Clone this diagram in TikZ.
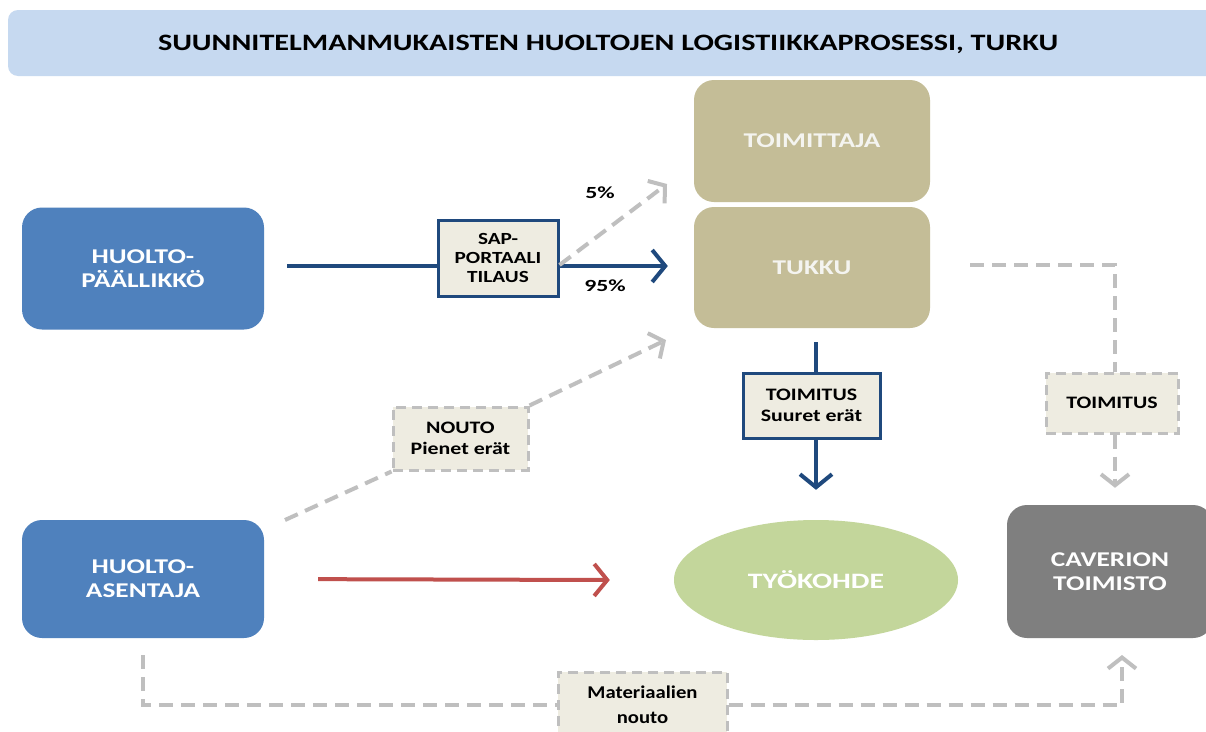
\documentclass[tikz,border=0pt]{standalone}
\usepackage{fontspec}
\usepackage{graphicx}
\setmainfont{Carlito}
\usetikzlibrary{arrows.meta,shapes.geometric}
\definecolor{titlebg}{HTML}{C6D9F0}
\definecolor{bluebox}{HTML}{4F81BD}
\definecolor{tanbox}{HTML}{C4BD97}
\definecolor{greenell}{HTML}{C3D69B}
\definecolor{graybox}{HTML}{7F7F7F}
\definecolor{lblfill}{HTML}{EEECE1}
\definecolor{darkblue}{HTML}{1F497D}
\definecolor{redline}{HTML}{C0504D}
\definecolor{lightgray}{HTML}{BFBFBF}
\definecolor{paletext}{HTML}{F4F4F0}
\newcommand\hs[1]{\scalebox{1.3}[1]{#1}}
\newcommand\hsl[1]{\scalebox{1.25}[1]{#1}}
\begin{document}
\begin{tikzpicture}[x=1pt,y=-1pt,
  mainbox/.style={rounded corners=20pt, minimum width=242pt, minimum height=122pt, inner sep=0pt,
    font=\bfseries\fontsize{21}{24}\selectfont, align=center, text=white},
  lblblue/.style={draw=darkblue, line width=3pt, fill=lblfill, align=center, inner sep=0pt,
    font=\bfseries\fontsize{17.5}{21}\selectfont},
  lblgray/.style={draw=lightgray, line width=3pt, dash pattern=on 10pt off 6pt, fill=lblfill, align=center, inner sep=0pt,
    font=\bfseries\fontsize{17.5}{21}\selectfont},
  blueline/.style={draw=darkblue, line width=4pt},
  bluearrow/.style={blueline, -{Straight Barb[length=13pt,width=32pt,line width=4pt]}},
  redarrow/.style={draw=redline, line width=4pt, -{Straight Barb[length=13pt,width=32pt,line width=4pt]}},
  grayline/.style={draw=lightgray, line width=4pt, dash pattern=on 14pt off 8pt},
  grayarrow/.style={grayline, -{Straight Barb[length=11pt,width=28pt,line width=4pt]}},
  pct/.style={font=\bfseries\fontsize{17}{20}\selectfont}
]
\useasboundingbox (0,0) rectangle (1206,731);
\fill[white] (0,0) rectangle (1206,731);

% title
\node[fill=titlebg, rounded corners=10pt, minimum width=1230pt, minimum height=66pt, inner sep=0pt] (title) at (623,43) {};
\node[font=\bfseries\fontsize{23.5}{28}\selectfont] (titletext) at (608,44)
  {\resizebox{900pt}{\height}{SUUNNITELMANMUKAISTEN HUOLTOJEN LOGISTIIKKAPROSESSI, TURKU}};

% main boxes
\node[mainbox, fill=bluebox] (hp) at (143,268.5) {\hs{HUOLTO-}\\\hs{PÄÄLLIKKÖ}};
\node[mainbox, fill=bluebox, minimum height=118pt] (ha) at (143,579) {\hs{HUOLTO-}\\\hs{ASENTAJA}};
\node[mainbox, fill=tanbox, minimum width=236pt, text=paletext] (toimittaja) at (812,141) {\hs{TOIMITTAJA}};
\node[mainbox, fill=tanbox, minimum width=236pt, minimum height=121pt, text=paletext] (tukku) at (812,267.5) {\hs{TUKKU}};
\node[ellipse, fill=greenell, minimum width=284pt, minimum height=120pt, inner sep=0pt,
  font=\bfseries\fontsize{22}{26}\selectfont, text=white] (tyo) at (816,580) {\scalebox{1.35}[1]{TYÖKOHDE}};
\node[mainbox, fill=graybox, minimum width=206pt, minimum height=133pt] (cav) at (1110,571.5) {\hs{CAVERION}\\\hs{TOIMISTO}};

% label boxes
\node[lblblue, minimum width=120pt, minimum height=76pt, font=\bfseries\fontsize{17}{19}\selectfont] (sap) at (498,258) {\hsl{SAP-}\\\hsl{PORTAALI}\\\hsl{TILAUS}};
\node[lblgray, minimum width=135pt, minimum height=63pt] (nouto) at (460.5,438.5) {\hsl{NOUTO}\\\hsl{Pienet erät}};
\node[lblblue, minimum width=137pt, minimum height=65pt] (toim1) at (811.5,405.5) {\hsl{TOIMITUS}\\\hsl{Suuret erät}};
\node[lblgray, minimum width=132pt, minimum height=60pt] (toim2) at (1112,403) {\hsl{TOIMITUS}};
\node[lblgray, minimum width=169pt, minimum height=66pt, font=\bfseries\fontsize{18}{25}\selectfont] (mat) at (642.5,705)
  {\scalebox{1.15}[1]{Materiaalien}\\\scalebox{1.15}[1]{nouto}};

% free end points
\coordinate (p5) at (667,184);
\coordinate (pn) at (666,340);
\coordinate (cavin) at (1122,655);
\coordinate (hastart) at (285,520);
\coordinate (tukkuout) at (970,265);

% connectors
\draw[blueline, shorten <=23pt] (hp.east |- 0,266) -- (sap.west |- 0,266);
\draw[bluearrow] (sap.east |- 0,266) -- ([xshift=-26pt]tukku.west |- 0,266);
\node[pct] (l95) at (605,286) {\scalebox{1.4}[1]{95\%}};
\draw[grayarrow] (sap.east |- 0,265) -- (p5);
\node[pct] (l5) at (600,193) {\scalebox{1.4}[1]{5\%}};

\draw[grayline] (hastart) -- (nouto.south west);
\draw[grayarrow] (nouto.north east) -- (pn);

\draw[blueline] (816,342) -- (toim1.north -| 816,0);
\draw[bluearrow] (toim1.south -| 816,0) -- ([yshift=30pt]tyo.north);

\draw[grayline] (tukkuout) -| (toim2.north -| 1115,0);
\draw[grayarrow] (toim2.south -| 1115,0) -- ([yshift=17pt]cav.north -| 1115,0);

\draw[redarrow, shorten <=54pt] (ha.east) -- ([xshift=-64pt]tyo.west);

\draw[grayline, shorten <=17pt] (ha.south) |- (mat.west);
\draw[grayarrow] (mat.east) -| (cavin);
\end{tikzpicture}
\end{document}
